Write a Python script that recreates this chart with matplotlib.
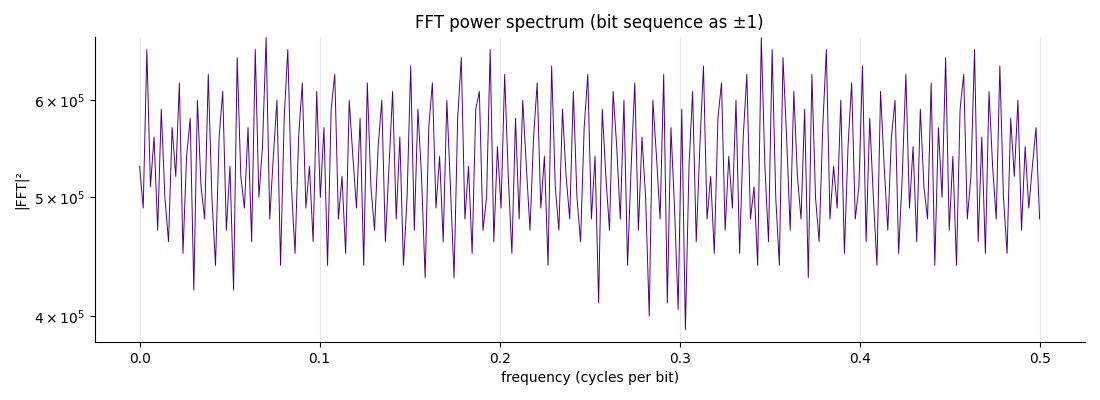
import numpy as np
import matplotlib.pyplot as plt
from matplotlib.ticker import LogLocator, LogFormatterSciNotation, NullFormatter

# |FFT|^2 values, in units of 1e5 (left to right)
power_e5 = [
    5.3, 4.9, 6.6, 5.1, 5.6, 4.7, 5.9, 5.0, 4.6, 5.7,
    5.2, 6.2, 4.5, 5.4, 5.8, 4.2, 6.0, 5.1, 4.8, 6.3,
    5.0, 4.4, 5.6, 6.1, 4.7, 5.3, 4.2, 6.5, 5.2, 4.9,
    5.7, 4.6, 6.6, 5.0, 5.5, 6.75, 4.8, 5.4, 6.0, 4.4,
    5.8, 6.6, 5.1, 4.5, 5.6, 6.2, 4.9, 5.3, 4.6, 6.1,
    5.0, 5.7, 4.4, 5.9, 6.3, 4.8, 5.2, 4.5, 6.0, 5.4,
    4.9, 5.8, 4.4, 6.2, 5.1, 4.7, 5.5, 6.0, 4.6, 5.3,
    6.1, 4.8, 5.6, 4.4, 5.0, 6.4, 4.7, 5.9, 5.2, 4.3,
    5.7, 6.2, 4.9, 5.4, 4.6, 6.0, 5.1, 4.3, 5.8, 6.5,
    4.8, 5.3, 4.5, 5.9, 6.1, 4.7, 5.0, 6.6, 4.6, 5.5,
    4.9, 6.3, 5.2, 4.5, 5.8, 4.8, 6.0, 5.3, 4.7, 5.6,
    6.2, 4.9, 5.4, 4.4, 6.4, 5.1, 4.7, 5.9, 5.2, 4.8,
    6.1, 5.0, 4.6, 5.7, 6.3, 4.8, 5.4, 4.1, 5.9, 5.2,
    4.7, 6.1, 5.5, 4.8, 6.0, 4.4, 5.3, 6.2, 4.7, 5.6,
    5.0, 4.0, 6.0, 5.4, 4.8, 6.3, 4.1, 5.7, 4.9, 4.05,
    5.9, 3.9, 5.3, 6.1, 4.6, 5.5, 6.4, 4.8, 5.2, 4.5,
    5.8, 6.2, 4.7, 5.4, 4.9, 6.0, 4.5, 5.6, 6.3, 4.8,
    5.1, 4.4, 6.75, 5.3, 4.6, 6.6, 5.0, 4.4, 6.5, 5.6,
    4.7, 6.1, 5.2, 4.8, 5.9, 4.3, 6.3, 5.0, 4.6, 5.7,
    6.6, 4.8, 5.3, 4.9, 6.0, 4.5, 5.5, 6.2, 4.8, 5.1,
    6.4, 4.6, 5.8, 5.0, 4.4, 6.1, 5.3, 4.7, 5.6, 6.0,
    4.5, 5.2, 6.3, 4.9, 5.5, 4.6, 5.9, 5.1, 4.8, 6.2,
    4.4, 5.7, 5.0, 6.5, 4.7, 5.4, 4.4, 5.9, 6.3, 4.8,
    5.2, 6.6, 4.6, 5.6, 4.5, 6.1, 5.3, 4.8, 6.4, 5.0,
    4.5, 5.8, 5.2, 6.0, 4.7, 5.5, 4.9, 5.3, 5.7, 4.8,
]

power = np.array(power_e5) * 1e5
freq = np.linspace(0, 0.5, len(power))

fig, ax = plt.subplots(figsize=(11, 4), dpi=100)
fig.subplots_adjust(left=0.086, right=0.986, top=0.908, bottom=0.145)

ax.plot(freq, power, color="#4b0082", lw=0.7)
ax.set_yscale("log")
ax.set_ylim(3.81e5, 6.76e5)
ax.set_xlim(-0.025, 0.525)
ax.yaxis.set_major_locator(LogLocator(base=10, subs=(4, 5, 6)))
ax.yaxis.set_major_formatter(LogFormatterSciNotation(base=10, labelOnlyBase=False))
ax.yaxis.set_minor_formatter(NullFormatter())
ax.yaxis.set_minor_locator(LogLocator(base=10, subs=()))

ax.grid(axis="x", color="#e6e6e6", lw=0.8)
ax.set_axisbelow(True)
ax.spines["top"].set_visible(False)
ax.spines["right"].set_visible(False)

ax.set_title("FFT power spectrum (bit sequence as \u00b11)")
ax.set_xlabel("frequency (cycles per bit)")
ax.set_ylabel("|FFT|\u00b2")

fig.savefig("out.png")
